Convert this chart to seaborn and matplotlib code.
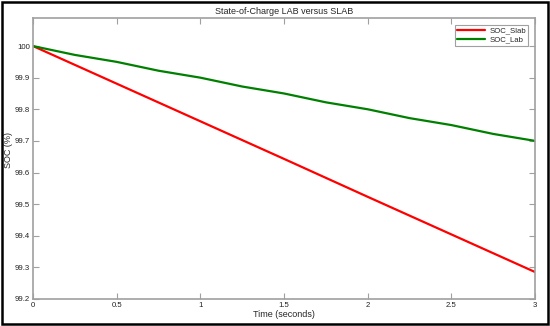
import numpy as np
import pandas as pd
import seaborn as sns
import matplotlib.pyplot as plt
from matplotlib.patches import Rectangle

# time axis and state-of-charge curves
time_slab = [0, 0.5, 1.0, 1.5, 2.0, 2.5, 3.0]
soc_slab = [100.0, 99.881, 99.762, 99.643, 99.523, 99.404, 99.285]

time_lab = [0, 0.25, 0.5, 0.75, 1.0, 1.25, 1.5, 1.75, 2.0, 2.25, 2.5, 2.75, 3.0]
soc_lab = [100.0, 99.972, 99.95, 99.922, 99.90, 99.872, 99.85,
           99.822, 99.80, 99.772, 99.75, 99.722, 99.70]

xticks = [0, 0.5, 1, 1.5, 2, 2.5, 3]
xticklabels = ['0', '0.5', '1', '1.5', '2', '2.5', '3']
yticks = [99.2, 99.3, 99.4, 99.5, 99.6, 99.7, 99.8, 99.9, 100.0]
yticklabels = ['99.2', '99.3', '99.4', '99.5', '99.6', '99.7', '99.8', '99.9', '100']

df = pd.concat([
    pd.DataFrame({'time': time_slab, 'soc': soc_slab, 'series': 'SOC_Slab'}),
    pd.DataFrame({'time': time_lab, 'soc': soc_lab, 'series': 'SOC_Lab'}),
])

sns.set_theme(style='white')
plt.rcParams['font.family'] = ['Liberation Sans', 'DejaVu Sans']

fig = plt.figure(figsize=(5.5, 3.26), dpi=100)
ax = fig.add_axes([0.06, 0.083, 0.913, 0.862])

sns.lineplot(
    data=df, x='time', y='soc', hue='series',
    palette={'SOC_Slab': '#ff0000', 'SOC_Lab': '#008000'},
    linewidth=1.6, ax=ax, estimator=None, sort=False
)

ax.set_xlim(0, 3)
ax.set_ylim(99.2, 100.089)
ax.set_xticks(xticks)
ax.set_xticklabels(xticklabels)
ax.set_yticks(yticks)
ax.set_yticklabels(yticklabels)

grey = '#a0a0a0'
for s in ax.spines.values():
    s.set_color(grey)
    s.set_linewidth(1.2)
ax.tick_params(direction='in', length=4, width=0.8, color=grey,
               labelsize=5.6, labelcolor='#222222', pad=2,
               top=True, right=True, bottom=True, left=True)

ax.set_title('State-of-Charge LAB versus SLAB', fontsize=6.5, pad=3)
ax.set_xlabel('Time (seconds)', fontsize=6.5, labelpad=1)
ax.set_ylabel('SOC (%)', fontsize=6.5)
ax.yaxis.set_label_coords(-0.039, 0.53)

leg = ax.legend(loc='upper right', fontsize=5.6, frameon=True, fancybox=False,
                handlelength=3.6, borderpad=0.3, labelspacing=0.15,
                handletextpad=0.5, borderaxespad=0.9)
leg.get_frame().set_edgecolor('#888888')
leg.get_frame().set_linewidth(0.8)

# black frame round the whole image
fig.patches.append(Rectangle((0.004, 0.006), 0.992, 0.988, transform=fig.transFigure,
                             fill=False, edgecolor='black', linewidth=1.8))

fig.savefig('out.png', dpi=100)
